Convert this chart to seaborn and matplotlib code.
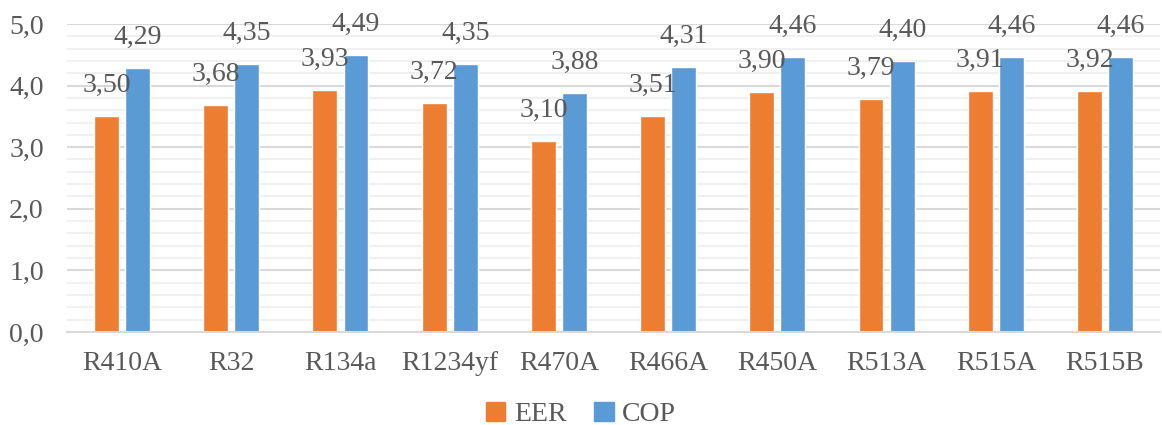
import matplotlib.pyplot as plt
import seaborn as sns
import pandas as pd
import numpy as np
from matplotlib.ticker import MultipleLocator, FuncFormatter

refrigerants = ["R410A", "R32", "R134a", "R1234yf", "R470A", "R466A", "R450A", "R513A", "R515A", "R515B"]
eer = [3.50, 3.68, 3.93, 3.72, 3.10, 3.51, 3.90, 3.79, 3.91, 3.92]
cop = [4.29, 4.35, 4.49, 4.35, 3.88, 4.31, 4.46, 4.40, 4.46, 4.46]
series = ["EER", "COP"]
colors = ["#ED7D31", "#5B9BD5"]

df = pd.DataFrame({
    "ref": refrigerants * 2,
    "value": eer + cop,
    "series": ["EER"] * len(eer) + ["COP"] * len(cop),
})

sns.set_style("white")
plt.rcParams["font.family"] = ["Liberation Serif", "DejaVu Serif"]
text_color = "#595959"

fig = plt.figure(figsize=(11.62, 4.25), dpi=100)
ax = fig.add_axes([0.058, 0.219, 0.94, 0.7245])

sns.barplot(data=df, x="ref", y="value", hue="series", hue_order=series,
            palette=colors, width=0.57, gap=0.2, ax=ax, legend=False,
            saturation=1)

# value labels above each bar, decimal comma
for cont in ax.containers:
    for bar in cont:
        h = bar.get_height()
        ax.annotate(f"{h:.2f}".replace(".", ","),
                    (bar.get_x() + bar.get_width() / 2, h),
                    xytext=(0, 13), textcoords="offset points",
                    ha="center", va="bottom", fontsize=20, color=text_color)

ax.set_ylim(0, 5.0)
ax.set_xlim(-0.5, 9.5)
ax.yaxis.set_major_locator(MultipleLocator(1.0))
ax.yaxis.set_minor_locator(MultipleLocator(0.2))
ax.yaxis.set_major_formatter(FuncFormatter(lambda v, p: f"{v:.1f}".replace(".", ",")))
ax.grid(which="major", axis="y", color="#D9D9D9", linewidth=1.5)
ax.grid(which="minor", axis="y", color="#F0F0F0", linewidth=1.5)
ax.set_axisbelow(True)
for s in ["top", "right", "left"]:
    ax.spines[s].set_visible(False)
ax.spines["bottom"].set_color("#D9D9D9")
ax.spines["bottom"].set_linewidth(1.5)
ax.tick_params(axis="both", which="both", length=0, labelsize=20,
               colors=text_color, pad=14)
ax.tick_params(axis="y", pad=17)
ax.set_xlabel("")
ax.set_ylabel("")

handles = [plt.Rectangle((0, 0), 1, 1, color=c) for c in colors]
fig.legend(handles, series, loc="center", bbox_to_anchor=(0.5, 0.025),
           ncol=2, frameon=False, fontsize=20, handlelength=0.7,
           handleheight=0.7, handletextpad=0.3, columnspacing=1.0,
           labelcolor=text_color)

fig.savefig("out.png", dpi=100)
